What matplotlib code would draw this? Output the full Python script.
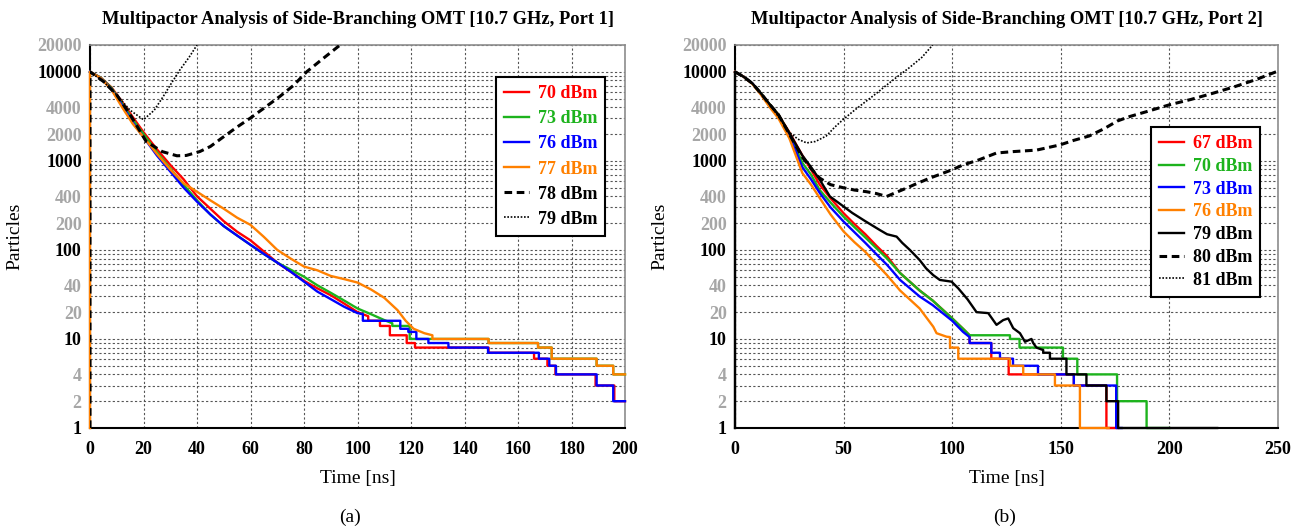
"""multipactor analysis of side-branching OMT, two ports"""
import numpy as np
import matplotlib
matplotlib.use('Agg')
import matplotlib.pyplot as plt
from matplotlib.ticker import LogLocator, NullFormatter

plt.rcParams['font.family'] = ['Liberation Serif', 'DejaVu Serif']

# ---- Port 1 data (time in ns, particles) ----
p1_70_t = [0, 4, 8, 12, 16, 20, 25, 30, 35, 40, 45, 50, 55, 60, 65, 70, 75, 80, 85, 90, 95, 100, 104]
p1_70_n = [10000, 8600, 6700, 4600, 3100, 2100, 1350, 900, 620, 400, 290, 210, 160, 128, 96, 72, 57, 45, 37, 31, 25, 20, 18]
p1_70_st = [104, 108.4, 112.1, 118.4, 121.5, 149, 166, 171, 174, 189, 196, 200]
p1_70_sn = [16, 14, 11, 9, 8, 7, 6, 5, 4, 3, 2]

p1_73_t = [0, 4, 8, 12, 16, 20, 25, 30, 35, 40, 45, 50, 55, 60, 65, 70, 75, 80, 85, 90, 95, 100, 105, 110, 113]
p1_73_n = [10000, 8600, 6600, 4400, 2900, 2000, 1250, 820, 540, 360, 250, 185, 145, 114, 90, 72, 60, 50, 40, 33, 27, 22, 19, 16.3, 15]
p1_73_st = [113, 119.5, 149, 167.5, 172.6, 189.4, 195.6, 200]
p1_73_sn = [14, 10, 9, 8, 6, 5, 4]

p1_76_t = [0, 4, 8, 12, 16, 20, 25, 30, 35, 40, 45, 50, 55, 60, 65, 70, 75, 80, 85, 90, 95, 100, 102]
p1_76_n = [10000, 8500, 6400, 4200, 2700, 1850, 1150, 760, 500, 348, 250, 185, 145, 114, 90, 72, 57, 44, 34, 28, 23, 19.5, 19]
p1_76_st = [102, 116, 119, 122, 126.5, 134, 148.8, 167.8, 171.7, 174.2, 189.4, 195.6, 200]
p1_76_sn = [16, 13, 12, 10, 9, 8, 7, 6, 5, 4, 3, 2]

p1_77_t = [0, 0, 4, 8, 12, 16, 20, 25, 30, 35, 40, 45, 50, 55, 60, 65, 70, 75, 80, 85, 90, 95, 100, 105, 110, 115, 118, 121, 125, 128]
p1_77_n = [1, 10000, 8500, 6300, 4000, 2600, 1850, 1200, 800, 560, 450, 360, 290, 230, 191, 140, 100, 80, 65, 59, 51, 47, 43, 36, 29, 21, 16, 13, 11.6, 11]
p1_77_st = [128, 149, 167.5, 172.6, 189.4, 195.6, 200]
p1_77_sn = [10, 9, 8, 6, 5, 4]

p1_78_t = [0, 0, 5, 10, 15, 21, 27, 32.5, 36, 41, 45, 50, 55, 60, 65, 71, 76, 81, 87, 93.5]
p1_78_n = [1, 10000, 7800, 5500, 3300, 1650, 1270, 1140, 1150, 1270, 1450, 1870, 2400, 3030, 3900, 5300, 7000, 10000, 14000, 20000]

p1_79_t = [0, 5, 10, 15, 20, 24, 27.4, 30.5, 33.6, 37, 40]
p1_79_n = [10000, 7800, 5500, 3700, 2900, 3700, 5300, 7500, 10500, 14500, 20000]

# ---- Port 2 data ----
p2_67_t = [0, 4, 8, 12, 16, 20, 25, 31, 35, 39, 44, 50, 55, 60, 65, 70, 76, 85, 91, 100, 105, 108]
p2_67_n = [10000, 8800, 7400, 5700, 4300, 3300, 2100, 1150, 800, 540, 380, 258, 195, 150, 112, 85, 55, 35, 27, 17, 13, 11]
p2_67_st = [108, 118, 126, 156, 171, 176]
p2_67_sn = [9, 6, 4, 3, 1]

p2_70_t = [0, 4, 8, 12, 16, 20, 25, 31, 35, 39, 44, 50, 55, 60, 65, 70, 76, 85, 91, 100, 105, 108]
p2_70_n = [10000, 8800, 7400, 5700, 4300, 3300, 2050, 950, 700, 470, 340, 236, 180, 138, 105, 80, 55, 35, 27, 17, 13, 11]
p2_70_st = [108, 126.6, 131, 151, 157.6, 175.9, 189.5, 200]
p2_70_sn = [11, 10, 8, 6, 4, 2, 1]

p2_73_t = [0, 4, 8, 12, 16, 20, 25, 31, 35, 39, 44, 50, 55, 60, 65, 70, 76, 85, 91, 100, 105, 108]
p2_73_n = [10000, 8800, 7400, 5600, 4200, 3200, 1950, 850, 620, 437, 300, 208, 158, 120, 90, 68, 46, 30, 24, 16, 12, 10.5]
p2_73_st = [108, 118, 122, 128, 139.5, 156, 175.5, 178]
p2_73_sn = [9, 7, 6, 5, 4, 3, 1]

p2_76_t = [0, 4, 8, 12, 16, 20, 25, 31, 35, 39, 44, 50, 55, 60, 65, 70, 76, 85, 91.3, 92.8, 97.4, 99]
p2_76_n = [10000, 8800, 7300, 5500, 4000, 3000, 1800, 730, 540, 383, 250, 161, 122, 95, 70, 52, 35, 22, 13.7, 11.6, 10.6, 10.5]
p2_76_st = [99, 102.8, 126.6, 132.7, 147.3, 158.8, 172]
p2_76_sn = [8, 6, 5, 4, 3, 1]

p2_79_t = [0, 0, 4, 8, 12, 16, 20, 25, 31, 35, 39, 43.7, 49, 54, 60, 66.7, 70, 74.4, 77, 80.5, 85, 88, 91.3, 94.3,
           99.7, 102.8, 107, 111.2, 116.6, 120.4, 123.5, 125.8, 128.1, 131.2, 133.5, 136.5, 137.3, 138.8, 141.9]
p2_79_n = [1, 10000, 8800, 7400, 5700, 4300, 3300, 2050, 1150, 850, 615, 398, 320, 260, 210, 167, 150, 141, 120, 100, 77, 62, 52, 46,
           44, 37, 28, 20, 19.5, 14.4, 16.3, 17, 13.2, 11.6, 9.3, 10, 9, 8, 7.5]
p2_79_st = [141.9, 145, 152.6, 161.8, 171, 176.4, 222]
p2_79_sn = [7, 6, 4, 3, 2, 1]

p2_80_t = [0, 4, 8, 12, 16, 20, 25, 31, 35, 39, 44, 49.7, 55, 60.6, 65, 69.8, 74, 79, 84, 89.7, 94, 99.7, 105, 112,
           120.4, 128, 138.8, 149.6, 156, 163, 170, 176, 181.8, 190, 200, 210, 220, 230, 240, 250]
p2_80_n = [10000, 8800, 7400, 5700, 4300, 3300, 2000, 1100, 820, 640, 540, 500, 470, 450, 430, 398, 440, 495, 560, 640, 700, 790, 900, 1020,
           1225, 1270, 1320, 1510, 1700, 1900, 2300, 2800, 3150, 3600, 4260, 4900, 5740, 6800, 8200, 10200]

p2_81_t = [0, 4, 8, 12, 16, 21, 25, 29, 33, 37, 42, 46, 49.7, 55, 60, 65, 69.8, 75, 80, 86, 91]
p2_81_n = [10000, 8800, 7400, 5700, 4300, 2900, 2100, 1750, 1590, 1650, 1900, 2400, 2900, 3700, 4600, 5700, 7100, 8900, 11000, 14500, 20000]

y_ticks = [1, 2, 4, 10, 20, 40, 100, 200, 400, 1000, 2000, 4000, 10000, 20000]

RED, GREEN, BLUE, ORANGE = '#ff0000', '#1db31d', '#0000ff', '#ff8000'


def build(t, n, st=None, sn=None):
  x, y = list(t), list(n)
  if st:
    for i, lev in enumerate(sn):
      x += [st[i], st[i + 1]]
      y += [lev, lev]
  return x, y


def setup(ax, xmax, xstep, title, ylab_x):
  ax.set_yscale('log')
  ax.set_ylim(1, 20000)
  ax.set_xlim(0, xmax)
  ax.set_xticks(np.arange(0, xmax + 1, xstep))
  ax.set_yticks(y_ticks)
  ax.set_yticklabels([str(v) for v in y_ticks])
  for v, lab in zip(y_ticks, ax.get_yticklabels()):
    lab.set_color('black' if v in (1, 10, 100, 1000, 10000) else '#a6a6a6')
  ax.yaxis.set_minor_locator(LogLocator(base=10, subs=np.arange(1, 10)))
  ax.yaxis.set_minor_formatter(NullFormatter())
  ax.tick_params(which='both', length=0, labelsize=13)
  ax.tick_params(axis='y', pad=6)
  ax.tick_params(axis='x', pad=9)
  for lab in ax.get_xticklabels() + ax.get_yticklabels():
    lab.set_fontweight('bold')
  ax.grid(True, axis='y', which='both', color='#555555', linestyle=(0, (2, 2)), lw=0.8)
  ax.grid(True, axis='x', which='major', color='#555555', linestyle=(0, (2, 2)), lw=0.8)
  for s in ('left', 'bottom'):
    ax.spines[s].set_color('black')
    ax.spines[s].set_linewidth(1.5)
  for s in ('top', 'right'):
    ax.spines[s].set_color('#8c8c8c')
    ax.spines[s].set_linewidth(1.2)
  ax.set_title(title, fontsize=13.3, fontweight='bold', pad=15)
  ax.set_xlabel('Time [ns]', fontsize=14)
  ax.set_ylabel('Particles', fontsize=14)
  ax.xaxis.set_label_coords(0.5, -0.11)
  ax.yaxis.set_label_coords(ylab_x, 0.5)


fig = plt.figure(figsize=(13.01, 5.27), dpi=100)
ax1 = fig.add_axes([90 / 1301, 1 - 428 / 527, 535 / 1301, 383 / 527])
ax2 = fig.add_axes([735 / 1301, 1 - 428 / 527, 543 / 1301, 383 / 527])

setup(ax1, 200, 20, 'Multipactor Analysis of Side-Branching OMT [10.7 GHz, Port 1]', -0.125)
setup(ax2, 250, 50, 'Multipactor Analysis of Side-Branching OMT [10.7 GHz, Port 2]', -0.122)

solid = dict(lw=1.7, zorder=3, clip_on=False)
dash = dict(color='black', lw=2.2, linestyle=(0, (2.5, 1.5)), zorder=3)
dots = dict(color='black', lw=1.2, linestyle=(0, (1, 1)), zorder=3)

ax1.plot(*build(p1_70_t, p1_70_n, p1_70_st, p1_70_sn), color=RED, label='70 dBm', **solid)
ax1.plot(*build(p1_73_t, p1_73_n, p1_73_st, p1_73_sn), color=GREEN, label='73 dBm', **solid)
ax1.plot(*build(p1_76_t, p1_76_n, p1_76_st, p1_76_sn), color=BLUE, label='76 dBm', **solid)
ax1.plot(*build(p1_77_t, p1_77_n, p1_77_st, p1_77_sn), color=ORANGE, label='77 dBm', **solid)
ax1.plot(p1_78_t, p1_78_n, label='78 dBm', **dash)
ax1.plot(p1_79_t, p1_79_n, label='79 dBm', **dots)

ax2.plot(*build(p2_67_t, p2_67_n, p2_67_st, p2_67_sn), color=RED, label='67 dBm', **solid)
ax2.plot(*build(p2_70_t, p2_70_n, p2_70_st, p2_70_sn), color=GREEN, label='70 dBm', **solid)
ax2.plot(*build(p2_73_t, p2_73_n, p2_73_st, p2_73_sn), color=BLUE, label='73 dBm', **solid)
ax2.plot(*build(p2_76_t, p2_76_n, p2_76_st, p2_76_sn), color=ORANGE, label='76 dBm', **solid)
ax2.plot(*build(p2_79_t, p2_79_n, p2_79_st, p2_79_sn), color='black', label='79 dBm', **solid)
ax2.plot(p2_80_t, p2_80_n, label='80 dBm', **dash)
ax2.plot(p2_81_t, p2_81_n, label='81 dBm', **dots)

leg_kw = dict(loc='upper left', labelcolor='linecolor', fancybox=False, framealpha=1,
              edgecolor='black', handlelength=1.4, handletextpad=0.45, borderpad=0.45, borderaxespad=0,
              bbox_transform=fig.transFigure, prop={'weight': 'bold', 'size': 13})
leg1 = ax1.legend(bbox_to_anchor=(496 / 1301, 1 - 77 / 527), labelspacing=0.45, **leg_kw)
leg2 = ax2.legend(bbox_to_anchor=(1151 / 1301, 1 - 127 / 527), labelspacing=0.32, **leg_kw)
for leg in (leg1, leg2):
  leg.get_frame().set_linewidth(1.5)
  leg.set_zorder(5)

fig.text(350 / 1301, 1 - 517 / 527, '(a)', ha='center', va='center', fontsize=14)
fig.text(1005 / 1301, 1 - 517 / 527, '(b)', ha='center', va='center', fontsize=14)

plt.savefig('out.png', dpi=100)
